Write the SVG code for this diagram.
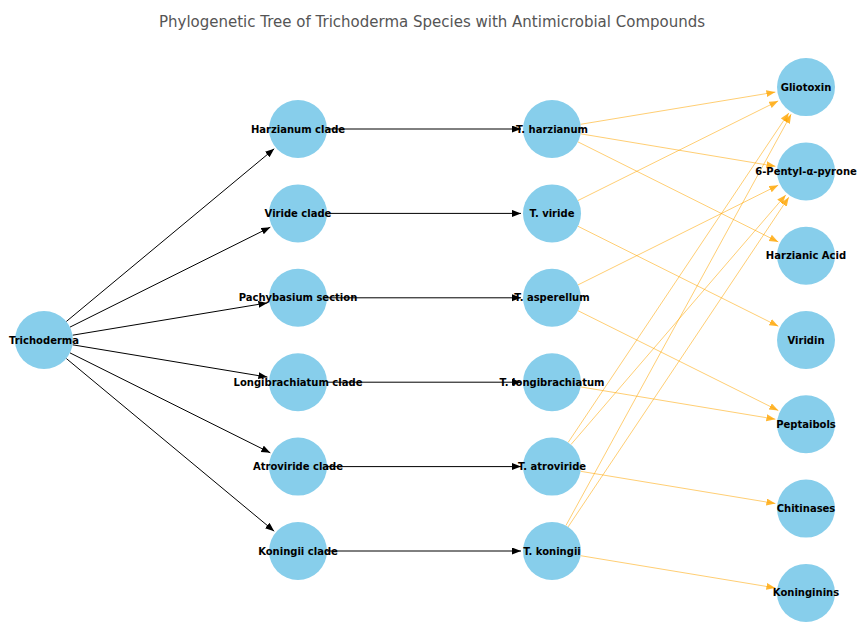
<svg xmlns="http://www.w3.org/2000/svg" width="865" height="625" viewBox="0 0 865 625">
<style>
.bg{fill:#ffffff}
.title{font-family:"DejaVu Sans","Liberation Sans",sans-serif;font-size:15px;fill:#555555;text-anchor:middle}
.node circle{fill:#87CEEB}
.node text{font-family:"DejaVu Sans","Liberation Sans",sans-serif;font-size:10px;font-weight:bold;fill:#000000;text-anchor:middle}
.tree line{stroke:#000000;stroke-width:1;fill:none}
.cmp line{stroke:#FFA500;stroke-width:1;stroke-opacity:0.55;fill:none}
</style>
<defs>
<marker id="ab" markerUnits="userSpaceOnUse" markerWidth="10" markerHeight="8" refX="9" refY="3.5" orient="auto">
<path d="M0,0 L9,3.5 L0,7 z" fill="#000000"/>
</marker>
<marker id="ao" markerUnits="userSpaceOnUse" markerWidth="10" markerHeight="8" refX="9" refY="3.5" orient="auto">
<path d="M0,0 L9,3.5 L0,7 z" fill="#FFA500" fill-opacity="0.8"/>
</marker>
</defs>
<rect class="bg" x="0" y="0" width="865" height="625"/>
<text class="title" x="432" y="27">Phylogenetic Tree of Trichoderma Species with Antimicrobial Compounds</text>
<g id="connectors">
<g class="tree" marker-end="url(#ab)">
<line x1="66.3" y1="321.5" x2="274.2" y2="148.8" marker-end="url(#ab)"/>
<line x1="70.0" y1="327.1" x2="270.3" y2="227.2" marker-end="url(#ab)"/>
<line x1="72.6" y1="335.2" x2="267.4" y2="302.9" marker-end="url(#ab)"/>
<line x1="72.6" y1="344.8" x2="267.4" y2="377.1" marker-end="url(#ab)"/>
<line x1="70.0" y1="352.9" x2="270.3" y2="452.8" marker-end="url(#ab)"/>
<line x1="66.3" y1="358.5" x2="274.2" y2="531.2" marker-end="url(#ab)"/>
<line x1="327" y1="129" x2="521" y2="129" marker-end="url(#ab)"/>
<line x1="327" y1="213.4" x2="521" y2="213.4" marker-end="url(#ab)"/>
<line x1="327" y1="297.8" x2="521" y2="297.8" marker-end="url(#ab)"/>
<line x1="327" y1="382.2" x2="521" y2="382.2" marker-end="url(#ab)"/>
<line x1="327" y1="466.6" x2="521" y2="466.6" marker-end="url(#ab)"/>
<line x1="327" y1="551" x2="521" y2="551" marker-end="url(#ab)"/>
</g>
<g class="cmp">
<line x1="580.6" y1="124.3" x2="775.4" y2="92.1" marker-end="url(#ao)"/>
<line x1="580.6" y1="133.8" x2="775.4" y2="166.3" marker-end="url(#ao)"/>
<line x1="578.0" y1="141.9" x2="778.3" y2="241.9" marker-end="url(#ao)"/>
<line x1="578.0" y1="200.5" x2="778.2" y2="100.9" marker-end="url(#ao)"/>
<line x1="578.0" y1="226.3" x2="778.3" y2="326.2" marker-end="url(#ao)"/>
<line x1="578.0" y1="284.9" x2="778.2" y2="185.2" marker-end="url(#ao)"/>
<line x1="578.0" y1="310.7" x2="778.3" y2="410.5" marker-end="url(#ao)"/>
<line x1="580.6" y1="386.9" x2="775.4" y2="419.2" marker-end="url(#ao)"/>
<line x1="568.1" y1="442.5" x2="788.8" y2="112.9" marker-end="url(#ao)"/>
<line x1="570.9" y1="444.6" x2="785.8" y2="194.9" marker-end="url(#ao)"/>
<line x1="580.6" y1="471.3" x2="775.4" y2="503.5" marker-end="url(#ao)"/>
<line x1="565.9" y1="525.6" x2="791.1" y2="114.3" marker-end="url(#ao)"/>
<line x1="568.1" y1="526.9" x2="788.8" y2="197.2" marker-end="url(#ao)"/>
<line x1="580.6" y1="555.7" x2="775.4" y2="587.9" marker-end="url(#ao)"/>
</g>
</g>
<g id="n-trichoderma" class="node"><circle cx="44" cy="340" r="29"/><text x="44" y="343.5">Trichoderma</text></g>
<g id="n-harzianum-clade" class="node"><circle cx="298" cy="129" r="29"/><text x="298" y="132.5">Harzianum clade</text></g>
<g id="n-viride-clade" class="node"><circle cx="298" cy="213.4" r="29"/><text x="298" y="216.9">Viride clade</text></g>
<g id="n-pachybasium" class="node"><circle cx="298" cy="297.8" r="29"/><text x="298" y="301.3">Pachybasium section</text></g>
<g id="n-longibrachiatum-clade" class="node"><circle cx="298" cy="382.2" r="29"/><text x="298" y="385.7">Longibrachiatum clade</text></g>
<g id="n-atroviride-clade" class="node"><circle cx="298" cy="466.6" r="29"/><text x="298" y="470.1">Atroviride clade</text></g>
<g id="n-koningii-clade" class="node"><circle cx="298" cy="551" r="29"/><text x="298" y="554.5">Koningii clade</text></g>
<g id="n-t-harzianum" class="node"><circle cx="552" cy="129" r="29"/><text x="552" y="132.5">T. harzianum</text></g>
<g id="n-t-viride" class="node"><circle cx="552" cy="213.4" r="29"/><text x="552" y="216.9">T. viride</text></g>
<g id="n-t-asperellum" class="node"><circle cx="552" cy="297.8" r="29"/><text x="552" y="301.3">T. asperellum</text></g>
<g id="n-t-longibrachiatum" class="node"><circle cx="552" cy="382.2" r="29"/><text x="552" y="385.7">T. longibrachiatum</text></g>
<g id="n-t-atroviride" class="node"><circle cx="552" cy="466.6" r="29"/><text x="552" y="470.1">T. atroviride</text></g>
<g id="n-t-koningii" class="node"><circle cx="552" cy="551" r="29"/><text x="552" y="554.5">T. koningii</text></g>
<g id="n-gliotoxin" class="node"><circle cx="806" cy="87.1" r="29"/><text x="806" y="90.6">Gliotoxin</text></g>
<g id="n-6pp" class="node"><circle cx="806" cy="171.4" r="29"/><text x="806" y="174.9">6-Pentyl-α-pyrone</text></g>
<g id="n-harzianic-acid" class="node"><circle cx="806" cy="255.7" r="29"/><text x="806" y="259.2">Harzianic Acid</text></g>
<g id="n-viridin" class="node"><circle cx="806" cy="340" r="29"/><text x="806" y="343.5">Viridin</text></g>
<g id="n-peptaibols" class="node"><circle cx="806" cy="424.3" r="29"/><text x="806" y="427.8">Peptaibols</text></g>
<g id="n-chitinases" class="node"><circle cx="806" cy="508.6" r="29"/><text x="806" y="512.1">Chitinases</text></g>
<g id="n-koninginins" class="node"><circle cx="806" cy="592.9" r="29"/><text x="806" y="596.4">Koninginins</text></g>
</svg>
